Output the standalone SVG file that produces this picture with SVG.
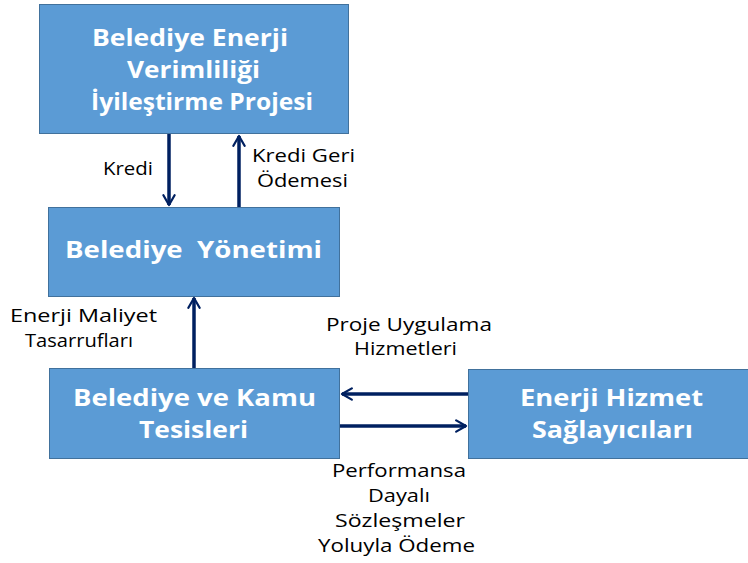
<svg xmlns="http://www.w3.org/2000/svg" width="748" height="563" viewBox="0 0 748 563">
  <style>
    .box { fill: #5B9BD5; stroke: #41719C; stroke-width: 1; }
    .bt { font-family: "Open Sans", "Liberation Sans", sans-serif; font-weight: bold; font-size: 23px; fill: #FFFFFF; }
    .lbl { font-family: "Open Sans", "Liberation Sans", sans-serif; font-size: 17.5px; fill: #000000; }
    .conn { stroke: #002060; stroke-width: 3.5; fill: none; }
  </style>
  <defs>
    <marker id="arrow" viewBox="0 0 10 10" refX="8" refY="5" markerWidth="4" markerHeight="4" orient="auto" markerUnits="strokeWidth">
      <path d="M1,1 L8,5 L1,9" fill="none" stroke="#002060" stroke-width="1.6" stroke-linecap="round" stroke-linejoin="round"/>
    </marker>
  </defs>

  <g id="node-proje">
    <rect class="box" x="39.5" y="4.5" width="309" height="129"/>
    <text class="bt" x="92" y="46" textLength="196" lengthAdjust="spacingAndGlyphs">Belediye Enerji</text>
    <text class="bt" x="127" y="78" textLength="133" lengthAdjust="spacingAndGlyphs">Verimliliği</text>
    <text class="bt" x="91" y="110" textLength="222" lengthAdjust="spacingAndGlyphs">İyileştirme Projesi</text>
  </g>

  <g id="node-yonetim">
    <rect class="box" x="48.5" y="207.5" width="291" height="89"/>
    <text class="bt" x="65" y="258" textLength="257" lengthAdjust="spacingAndGlyphs" xml:space="preserve">Belediye  Yönetimi</text>
  </g>

  <g id="node-tesis">
    <rect class="box" x="49.5" y="368.5" width="290" height="90"/>
    <text class="bt" x="73" y="406" textLength="243" lengthAdjust="spacingAndGlyphs">Belediye ve Kamu</text>
    <text class="bt" x="139" y="438" textLength="109" lengthAdjust="spacingAndGlyphs">Tesisleri</text>
  </g>

  <g id="node-esco">
    <rect class="box" x="468.5" y="369.5" width="282" height="89"/>
    <text class="bt" x="520" y="406" textLength="183" lengthAdjust="spacingAndGlyphs">Enerji Hizmet</text>
    <text class="bt" x="532" y="438" textLength="161" lengthAdjust="spacingAndGlyphs">Sağlayıcıları</text>
  </g>

  <g id="connectors">
    <line class="conn" x1="169" y1="134" x2="169" y2="205" marker-end="url(#arrow)"/>
    <line class="conn" x1="239" y1="207" x2="239" y2="136" marker-end="url(#arrow)"/>
    <line class="conn" x1="194" y1="368" x2="194" y2="298" marker-end="url(#arrow)"/>
    <line class="conn" x1="468" y1="394" x2="342" y2="394" marker-end="url(#arrow)"/>
    <line class="conn" x1="340" y1="426" x2="466" y2="426" marker-end="url(#arrow)"/>
  </g>

  <g id="labels">
    <text class="lbl" x="103" y="175" textLength="50" lengthAdjust="spacingAndGlyphs">Kredi</text>
    <text class="lbl" x="252" y="162" textLength="103" lengthAdjust="spacingAndGlyphs">Kredi Geri</text>
    <text class="lbl" x="257" y="187" textLength="91" lengthAdjust="spacingAndGlyphs">Ödemesi</text>
    <text class="lbl" x="10" y="322" textLength="147" lengthAdjust="spacingAndGlyphs">Enerji Maliyet</text>
    <text class="lbl" x="25" y="347" textLength="108" lengthAdjust="spacingAndGlyphs">Tasarrufları</text>
    <text class="lbl" x="326" y="331" textLength="166" lengthAdjust="spacingAndGlyphs">Proje Uygulama</text>
    <text class="lbl" x="354" y="355" textLength="103" lengthAdjust="spacingAndGlyphs">Hizmetleri</text>
    <text class="lbl" x="332" y="477" textLength="134" lengthAdjust="spacingAndGlyphs">Performansa</text>
    <text class="lbl" x="368" y="502" textLength="62" lengthAdjust="spacingAndGlyphs">Dayalı</text>
    <text class="lbl" x="335" y="527" textLength="130" lengthAdjust="spacingAndGlyphs">Sözleşmeler</text>
    <text class="lbl" x="318" y="552" textLength="157" lengthAdjust="spacingAndGlyphs">Yoluyla Ödeme</text>
  </g>
</svg>
